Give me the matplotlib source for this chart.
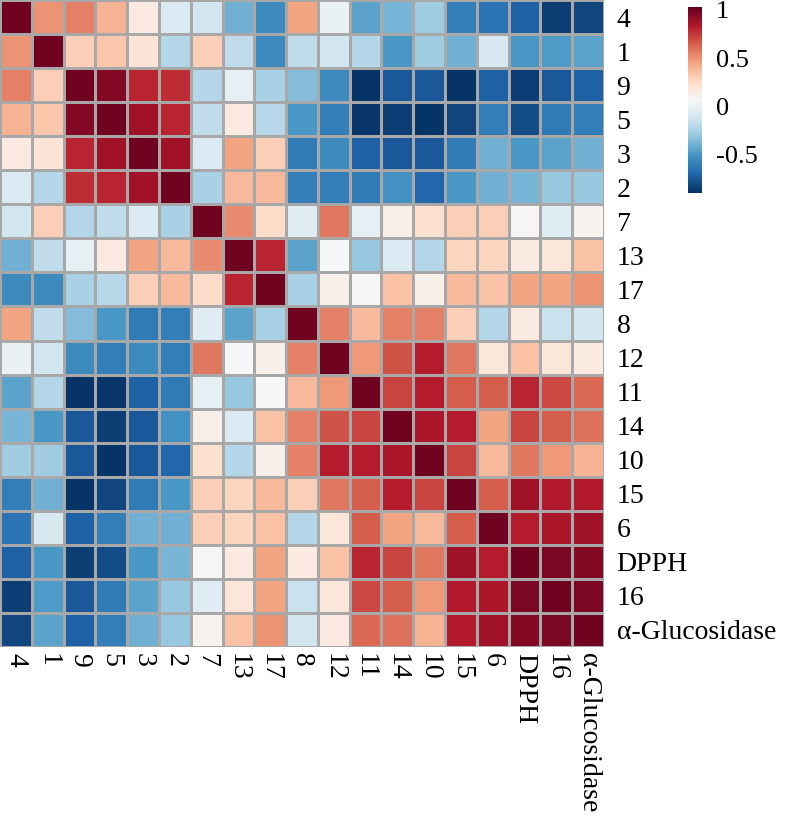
import numpy as np
import matplotlib
matplotlib.use("Agg")
import matplotlib.pyplot as plt

labels = ["4", "1", "9", "5", "3", "2", "7", "13", "17", "8", "12", "11",
          "14", "10", "15", "6", "DPPH", "16", "α-Glucosidase"]

# correlation matrix, rows/cols in label order
corr = [
    [1.00, 0.50, 0.55, 0.40, 0.15, -0.08, -0.12, -0.40, -0.55, 0.45, 0.00, -0.45, -0.38, -0.28, -0.60, -0.65, -0.72, -0.85, -0.82],
    [0.50, 1.00, 0.30, 0.33, 0.20, -0.22, 0.30, -0.18, -0.55, -0.18, -0.12, -0.22, -0.50, -0.28, -0.40, -0.10, -0.50, -0.48, -0.45],
    [0.55, 0.30, 1.00, 0.95, 0.80, 0.78, -0.22, -0.02, -0.25, -0.35, -0.55, -0.88, -0.75, -0.75, -0.88, -0.72, -0.85, -0.75, -0.72],
    [0.40, 0.33, 0.95, 1.00, 0.88, 0.80, -0.18, 0.15, -0.20, -0.50, -0.60, -0.87, -0.85, -0.88, -0.82, -0.60, -0.80, -0.62, -0.60],
    [0.15, 0.20, 0.80, 0.88, 1.00, 0.88, -0.08, 0.45, 0.30, -0.62, -0.55, -0.72, -0.75, -0.75, -0.62, -0.40, -0.50, -0.45, -0.40],
    [-0.08, -0.22, 0.78, 0.80, 0.88, 1.00, -0.25, 0.38, 0.38, -0.60, -0.60, -0.62, -0.52, -0.70, -0.50, -0.40, -0.38, -0.30, -0.30],
    [-0.12, 0.30, -0.22, -0.18, -0.08, -0.25, 1.00, 0.52, 0.25, -0.05, 0.58, -0.02, 0.12, 0.22, 0.30, 0.30, 0.08, -0.05, 0.10],
    [-0.40, -0.18, -0.02, 0.15, 0.45, 0.38, 0.52, 1.00, 0.80, -0.45, 0.05, -0.30, -0.08, -0.22, 0.28, 0.28, 0.15, 0.18, 0.35],
    [-0.55, -0.55, -0.25, -0.20, 0.30, 0.38, 0.25, 0.80, 1.00, -0.25, 0.12, 0.07, 0.35, 0.12, 0.38, 0.35, 0.45, 0.45, 0.50],
    [0.45, -0.18, -0.35, -0.50, -0.62, -0.60, -0.05, -0.45, -0.25, 1.00, 0.55, 0.38, 0.55, 0.55, 0.30, -0.22, 0.15, -0.15, -0.12],
    [0.00, -0.12, -0.55, -0.60, -0.55, -0.60, 0.58, 0.05, 0.12, 0.55, 1.00, 0.48, 0.68, 0.82, 0.58, 0.18, 0.35, 0.18, 0.15],
    [-0.45, -0.22, -0.88, -0.87, -0.72, -0.62, -0.02, -0.30, 0.07, 0.38, 0.48, 1.00, 0.72, 0.82, 0.65, 0.65, 0.80, 0.70, 0.62],
    [-0.38, -0.50, -0.75, -0.85, -0.75, -0.52, 0.12, -0.08, 0.35, 0.55, 0.68, 0.72, 1.00, 0.85, 0.82, 0.45, 0.72, 0.65, 0.60],
    [-0.28, -0.28, -0.75, -0.88, -0.75, -0.70, 0.22, -0.22, 0.12, 0.55, 0.82, 0.82, 0.85, 1.00, 0.72, 0.38, 0.58, 0.48, 0.40],
    [-0.60, -0.40, -0.88, -0.82, -0.62, -0.50, 0.30, 0.28, 0.38, 0.30, 0.58, 0.65, 0.82, 0.72, 1.00, 0.65, 0.88, 0.83, 0.83],
    [-0.65, -0.10, -0.72, -0.60, -0.40, -0.40, 0.30, 0.28, 0.35, -0.22, 0.18, 0.65, 0.45, 0.38, 0.65, 1.00, 0.82, 0.85, 0.88],
    [-0.72, -0.50, -0.85, -0.80, -0.50, -0.38, 0.08, 0.15, 0.45, 0.15, 0.35, 0.80, 0.72, 0.58, 0.88, 0.82, 1.00, 0.97, 0.95],
    [-0.85, -0.48, -0.75, -0.62, -0.45, -0.30, -0.05, 0.18, 0.45, -0.15, 0.18, 0.70, 0.65, 0.48, 0.83, 0.85, 0.97, 1.00, 0.97],
    [-0.82, -0.45, -0.72, -0.60, -0.40, -0.30, 0.10, 0.35, 0.50, -0.12, 0.15, 0.62, 0.60, 0.40, 0.83, 0.88, 0.95, 0.97, 1.00],
]

cbar_ticks = [-0.5, 0, 0.5, 1]
cbar_labels = ["-0.5", "0", "0.5", "1"]

plt.rcParams["font.family"] = ["Liberation Serif", "DejaVu Serif"]

data = np.array(corr)
n = len(labels)

fig = plt.figure(figsize=(7.87, 8.22), dpi=100)
W, H = 787, 822
ax = fig.add_axes([0, 1 - 647 / H, 604 / W, 647 / H])
mesh = ax.pcolormesh(np.arange(n + 1), np.arange(n + 1), data, cmap="RdBu_r",
                     vmin=-0.9, vmax=1.03, edgecolors="#a8a8a8", linewidth=0.8)
ax.set_xlim(0, n)
ax.set_ylim(n, 0)
for s in ax.spines.values():
    s.set_visible(False)

ax.set_xticks(np.arange(n) + 0.5)
ax.set_xticklabels(labels, rotation=-90, fontsize=20, va="top", ha="center")
ax.yaxis.tick_right()
ax.set_yticks(np.arange(n) + 0.5)
ax.set_yticklabels(labels, fontsize=20)
ax.tick_params(axis="y", length=0, pad=9)
ax.tick_params(axis="x", length=0, pad=4)

cax = fig.add_axes([688 / W, 1 - 193 / H, 14 / W, 186 / H])
cb = fig.colorbar(mesh, cax=cax, ticks=cbar_ticks)
cb.set_ticklabels(cbar_labels)
cb.outline.set_visible(False)
cax.tick_params(length=0, pad=10, labelsize=19)

fig.savefig("out.png", dpi=100)
